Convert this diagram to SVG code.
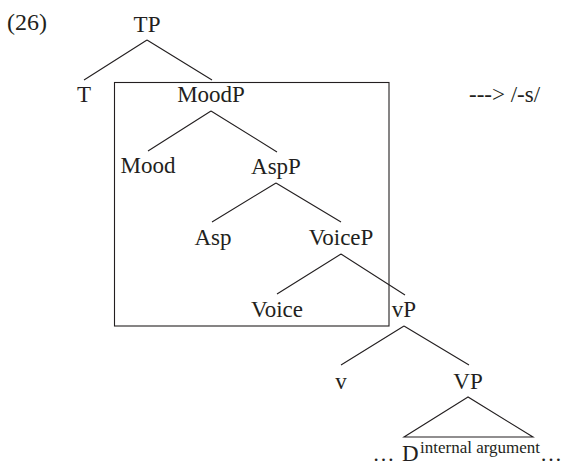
<svg xmlns="http://www.w3.org/2000/svg" width="561" height="463" viewBox="0 0 561 463">
  <style>
    text { font-family: 'Liberation Serif', 'Times New Roman', serif; fill: #231f20; }
    .lbl { font-size: 23px; text-anchor: middle; }
    .num { font-size: 24px; }
    .note { font-size: 23px; }
    .tail { font-size: 23px; }
    .dots { font-size: 22px; }
    .sup { font-size: 17px; }
    .edge { stroke: #231f20; stroke-width: 1.1; fill: none; }
  </style>
  <rect width="561" height="463" fill="#ffffff"/>

  <text class="num" x="7" y="30">(26)</text>
  <text class="note" x="469" y="102">---&gt; /-s/</text>

  <!-- spell-out domain -->
  <rect id="domain" x="114.5" y="82.5" width="274.5" height="243.5" class="edge"/>

  <g id="connectors">
    <path class="edge" d="M147,40 L84,80 M147,40 L212,80"/>
    <path class="edge" d="M211,111 L148,151 M211,111 L277,152"/>
    <path class="edge" d="M276,183 L212,222 M276,183 L341,222"/>
    <path class="edge" d="M341,254 L277,294 M341,254 L405,295"/>
    <path class="edge" d="M404,326 L341,365 M404,326 L469,365"/>
    <path class="edge" d="M468,397 L404,437 L533,437 Z"/>
  </g>

  <g id="TP"><text class="lbl" x="147" y="32">TP</text></g>
  <g id="T"><text class="lbl" x="84" y="102">T</text></g>
  <g id="MoodP"><text class="lbl" x="211" y="102">MoodP</text></g>
  <g id="Mood"><text class="lbl" x="148" y="173">Mood</text></g>
  <g id="AspP"><text class="lbl" x="276" y="174">AspP</text></g>
  <g id="Asp"><text class="lbl" x="213" y="245">Asp</text></g>
  <g id="VoiceP"><text class="lbl" x="341" y="245">VoiceP</text></g>
  <g id="Voice"><text class="lbl" x="277" y="317">Voice</text></g>
  <g id="vP"><text class="lbl" x="404" y="317">vP</text></g>
  <g id="v"><text class="lbl" x="341" y="389">v</text></g>
  <g id="VP"><text class="lbl" x="468" y="389">VP</text></g>
  <g id="VP-content">
    <text class="dots" x="372.5" y="461">…</text>
    <text class="tail" x="402" y="461">D</text>
    <text class="sup" x="420" y="453">internal argument</text>
    <text class="dots" x="540" y="461">…</text>
  </g>
</svg>
